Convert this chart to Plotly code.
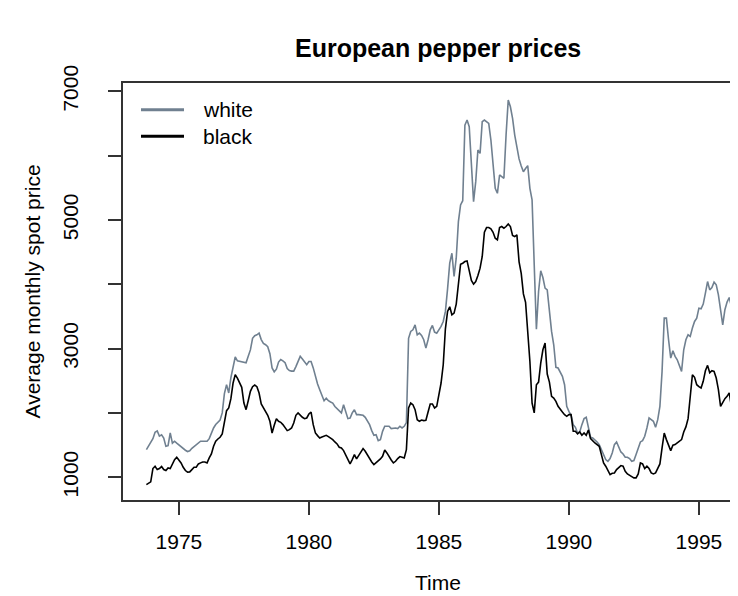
import numpy as np
import plotly.graph_objects as go

# Monthly European pepper spot prices, Oct 1973 - Apr 1996
start_year = 1973
start_month = 10

white_price = [
    1430, 1480, 1540,
    1600, 1700, 1720, 1640, 1660, 1610, 1480, 1490, 1690, 1530, 1560, 1530,
    1500, 1470, 1455, 1420, 1400, 1410, 1450, 1480, 1510, 1540, 1560, 1560,
    1560, 1560, 1600, 1700, 1766, 1820, 1850, 1890, 2000, 2300, 2440, 2310,
    2550, 2700, 2870, 2810, 2800, 2800, 2790, 2780, 2880, 2980, 3160, 3200,
    3215, 3240, 3140, 3080, 3060, 3030, 2920, 2700, 2640, 2680, 2790, 2830,
    2810, 2780, 2690, 2660, 2650, 2650, 2720, 2800, 2880, 2840, 2790, 2750,
    2800, 2800, 2700, 2560, 2450, 2360, 2258, 2190, 2230, 2190, 2170, 2154,
    2100, 2066, 2025, 2000, 2128, 2025, 1911, 1920, 2000, 2050, 1973, 1973,
    1973, 1963, 1932, 1880, 1818, 1725, 1652, 1662, 1570, 1585, 1714, 1792,
    1792, 1792, 1756, 1766, 1766, 1756, 1792, 1766, 1792, 1850, 3160, 3267,
    3293, 3370, 3215, 3241, 3205, 3138, 3008, 3138, 3293, 3360, 3257, 3241,
    3288, 3345, 3422, 3578, 3930, 4328, 4483, 4121, 4406, 4975, 5234, 5300,
    6476, 6554, 6450, 5752, 5286, 5596, 6088, 6036, 6528, 6554, 6528, 6502,
    6243, 5855, 5493, 5415, 5700, 5674, 5648, 6321, 6864, 6761, 6580, 6321,
    6114, 5950, 5840, 5750, 5800, 5845, 5493, 5312, 4300, 3300, 3888, 4209,
    4106, 3940, 3914, 3578, 3267, 3060, 2708, 2698, 2636, 2568, 2439, 2102,
    2025, 1963, 1818, 1776, 1688, 1704, 1818, 1911, 1932, 1766, 1621, 1611,
    1585, 1549, 1507, 1430, 1326, 1274, 1248, 1290, 1378, 1507, 1549, 1455,
    1393, 1362, 1311, 1311, 1290, 1248, 1259, 1352, 1466, 1549, 1569, 1637,
    1766, 1921, 1895, 1870, 1776, 1895, 2102, 2646, 3474, 3474, 3138, 2853,
    2967, 2879, 2827, 2749, 2646, 2982, 3138, 3215, 3189, 3319, 3422, 3474,
    3629, 3619, 3692, 3862, 4043, 3914, 3950, 4033, 3992, 3836, 3604, 3370,
    3604, 3723, 3795, 3655,
]

black_price = [
    886, 912, 928,
    1135, 1171, 1119, 1135, 1166, 1119, 1104, 1145, 1135, 1207, 1274, 1311,
    1274, 1223, 1155, 1104, 1078, 1083, 1119, 1155, 1155, 1207, 1223, 1238,
    1238, 1223, 1300, 1362, 1481, 1559, 1595, 1621, 1673, 1828, 2035, 2077,
    2222, 2465, 2594, 2542, 2465, 2398, 2154, 2051, 2190, 2335, 2408, 2434,
    2408, 2310, 2139, 2077, 2014, 1963, 1870, 1688, 1807, 1911, 1870, 1854,
    1818, 1766, 1725, 1740, 1766, 1844, 1963, 2000, 1963, 1932, 1911, 1921,
    1983, 2014, 1818, 1688, 1647, 1611, 1626, 1637, 1652, 1631, 1611, 1585,
    1549, 1518, 1466, 1455, 1414, 1352, 1274, 1207, 1274, 1352, 1285, 1342,
    1404, 1445, 1404, 1342, 1290, 1238, 1197, 1223, 1248, 1285, 1326, 1424,
    1378, 1311, 1269, 1223, 1248, 1290, 1321, 1311, 1300, 1430, 2077, 2154,
    2128, 2051, 1895, 1870, 1890, 1880, 1885, 2014, 2139, 2139, 2077, 2102,
    2284, 2465, 2749, 3308, 3578, 3650, 3526, 3552, 3692, 4002, 4313, 4328,
    4354, 4364, 4225, 4059, 4002, 4043, 4137, 4251, 4432, 4809, 4882, 4882,
    4861, 4809, 4716, 4690, 4882, 4898, 4872, 4898, 4939, 4898, 4758, 4742,
    4768, 4350, 4170, 3850, 3720, 3300, 2800, 2154, 2000, 2439, 2480, 2775,
    2982, 3086, 2605, 2480, 2258, 2232, 2180, 2102, 2051, 2014, 1973, 1947,
    1973, 1973, 1714, 1714, 1673, 1704, 1652, 1688, 1652, 1735, 1600, 1559,
    1533, 1507, 1481, 1352, 1223, 1171, 1093, 1041, 1062, 1067, 1119, 1145,
    1181, 1171, 1093, 1052, 1026, 1010, 990, 990, 1052, 1223, 1207, 1135,
    1171, 1135, 1067, 1052, 1067, 1145, 1207, 1455, 1688, 1585, 1481, 1414,
    1497, 1507, 1533, 1559, 1585, 1704, 1782, 1911, 2206, 2594, 2553, 2439,
    2408, 2387, 2491, 2656, 2739, 2625, 2656, 2646, 2542, 2361, 2102, 2170,
    2222, 2258, 2310, 2102,
]

x_ticks = [1975, 1980, 1985, 1990, 1995]
y_ticks = [1000, 2000, 3000, 4000, 5000, 6000, 7000]
y_ticktext = ["1000", "", "3000", "", "5000", "", "7000"]
series_names = ["white", "black"]
series_colors = ["slategray", "black"]

n = len(white_price)
time = start_year + (start_month - 1) / 12 + np.arange(n) / 12

W, H = 738, 596
L, R, T, B = 115, 0, 75, 104
pw, ph = W - L - R, H - T - B

FONT = "Liberation Sans, Arial, Helvetica, sans-serif"
AX = "#333333"
FS = 21

fig = go.Figure()
for name, vals, col in zip(series_names, [white_price, black_price], series_colors):
    fig.add_trace(go.Scatter(x=time, y=vals, mode="lines", name=name,
                             line=dict(color=col, width=1.6), showlegend=False))

x0 = 1972.85
px_per_year = 26.0
fig.update_xaxes(range=[x0, x0 + pw / px_per_year], tickvals=x_ticks,
                 ticks="outside", ticklen=13, tickwidth=1.8, tickcolor=AX,
                 showline=True, linecolor=AX, linewidth=1.8, mirror=True,
                 showgrid=False, zeroline=False, ticklabelstandoff=9,
                 tickfont=dict(family=FONT, size=FS, color="black"))
fig.update_yaxes(range=[646, 7130], tickvals=y_ticks, ticktext=y_ticktext,
                 tickangle=-90, ticks="outside", ticklen=13, tickwidth=1.8,
                 tickcolor=AX, showline=True, linecolor=AX, linewidth=1.8,
                 mirror=False, showgrid=False, zeroline=False,
                 ticklabelstandoff=22,
                 tickfont=dict(family=FONT, size=FS, color="black"))

def px_x(p):
    return (p - L) / pw

def px_y(p):
    return 1 - (p - T) / ph

cx = px_x(430.5)
annotations = [
    dict(text="<b>European pepper prices</b>", x=cx, y=px_y(40), xref="paper", yref="paper",
         showarrow=False, xanchor="center", yanchor="middle",
         font=dict(family=FONT, size=25, color="black")),
    dict(text="Time", x=cx, y=px_y(574), xref="paper", yref="paper",
         showarrow=False, xanchor="center", yanchor="middle",
         font=dict(family=FONT, size=FS, color="black")),
    dict(text="Average monthly spot price", x=px_x(24), y=0.5, xref="paper", yref="paper",
         showarrow=False, xanchor="center", yanchor="middle", textangle=-90,
         font=dict(family=FONT, size=FS, color="black")),
]
shapes = []
leg_y = [101.7, 128.3]
for name, col, yy in zip(series_names, series_colors, leg_y):
    shapes.append(dict(type="line", xref="paper", yref="paper",
                       x0=px_x(133), x1=px_x(176), y0=px_y(yy), y1=px_y(yy),
                       line=dict(color=col, width=3)))
    annotations.append(dict(text=name, x=px_x(193), y=px_y(yy), xref="paper", yref="paper",
                            showarrow=False, xanchor="left", yanchor="middle",
                            font=dict(family=FONT, size=FS, color="black")))

fig.update_layout(width=W, height=H, margin=dict(l=L, r=R, t=T, b=B),
                  paper_bgcolor="white", plot_bgcolor="white",
                  annotations=annotations, shapes=shapes, showlegend=False)

fig.write_html("out.html")
